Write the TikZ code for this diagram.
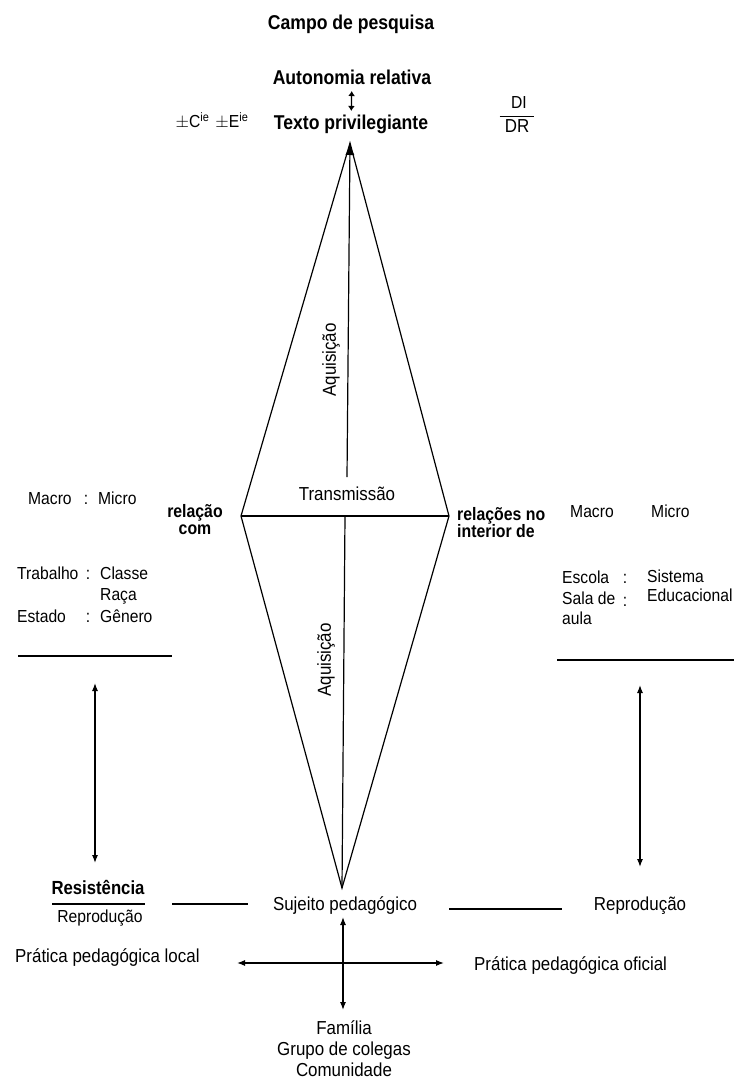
\documentclass[tikz,border=0pt]{standalone}
\usepackage{fontspec}
\setmainfont{Liberation Sans}[FakeStretch=0.9]
\newfontfamily\condfont{Liberation Sans}[FakeStretch=0.88]
\usetikzlibrary{arrows.meta}
\begin{document}
\begin{tikzpicture}[x=1pt,y=-1pt,
  txt/.style={inner sep=1pt,font=\fontsize{18.8}{21}\selectfont},
  sm/.style={inner sep=1pt,font=\fontsize{17.4}{20}\selectfont},
  bb/.style={inner sep=1pt,font=\condfont\bfseries\fontsize{20}{23}\selectfont},
  bs/.style={inner sep=1pt,font=\condfont\bfseries\fontsize{18}{17}\selectfont},
  ln/.style={line width=1.2pt},
  tip/.tip={Latex[length=8pt,width=6pt]},
  dbl/.style={line width=1.2pt,tip-tip},
]
\useasboundingbox (0,0) rectangle (734,1082);

% top texts
\node[bb,anchor=mid] (campo) at (351,27) {Campo de pesquisa};
\node[bb,anchor=mid] (auton) at (352,82) {Autonomia relativa};
\node[bb,anchor=mid] (texto) at (351,127) {Texto privilegiante};
\draw[line width=1.2pt,{Latex[length=5pt,width=7pt]}-{Latex[length=5pt,width=7pt]},shorten <=5pt,shorten >=3pt] (auton) -- (texto);
\node[sm,anchor=mid] (pm) at (212,125) {$\pm$C\textsuperscript{ie}\hspace{6pt}$\pm$E\textsuperscript{ie}};
\node[sm,anchor=mid] (di) at (519,106) {DI};
\node[txt,anchor=mid] (dr) at (517,130) {DR};
\draw[line width=1pt] ([xshift=-4pt,yshift=2pt]dr.north west) -- ([xshift=4pt,yshift=2pt]dr.north east);

% diamond
\coordinate (top) at (350,143);
\coordinate (lft) at (241,516);
\coordinate (rgt) at (449,516);
\coordinate (bot) at (342,888);
\coordinate (upend) at (347,477);
\coordinate (lowst) at (345,516);
\draw[ln,line join=miter] (top) -- (lft) -- (bot) -- (rgt) -- cycle;
\draw[ln] (lft) -- (rgt);
\draw[ln,-{Latex[length=12pt,width=9pt]}] (upend) -- (top);
\draw[ln] (lowst) -- (bot);
\node[txt,anchor=mid] (trans) at (347,498) {Transmissão};
\node[txt,rotate=90] (aq1) at (331,360) {Aquisição};
\node[txt,rotate=90] (aq2) at (326,660) {Aquisição};

% left side
\node[sm,anchor=mid west] (lmacro) at (27,502) {Macro};
\node[sm,anchor=mid] (lc1) at (86,502) {:};
\node[sm,anchor=mid west] (lmicro) at (97,502) {Micro};
\node[bs,align=center] (relcom) at (195,520) {relação\\com};
\node[sm,anchor=mid west] (trab) at (16,577) {Trabalho};
\node[sm,anchor=mid] (lc2) at (88,577) {:};
\node[sm,anchor=mid west] (classe) at (99,577) {Classe};
\node[sm,anchor=mid west] (raca) at (99,598) {Raça};
\node[sm,anchor=mid west] (estado) at (16,620) {Estado};
\node[sm,anchor=mid] (lc3) at (88,620) {:};
\node[sm,anchor=mid west] (genero) at (99,620) {Gênero};
\coordinate (lla) at (18,656);
\coordinate (llb) at (172,656);
\draw[ln] (lla) -- (llb);
\coordinate (la1) at (95,683);
\coordinate (la2) at (95,863);
\draw[dbl] (la1) -- (la2);
\node[bs,anchor=mid,font=\condfont\bfseries\fontsize{19}{20}\selectfont] (resist) at (98,892) {Resistência};
\draw[ln] (52,904) -- (145,904);
\node[sm,anchor=mid] (repl) at (100,920) {Reprodução};

% center bottom
\node[txt,anchor=mid] (sujeito) at (345,908) {Sujeito pedagógico};
\coordinate (s1) at (172,904);
\coordinate (s2) at (248,904);
\draw[ln] (s1) -- (s2);
\coordinate (s3) at (449,909);
\coordinate (s4) at (562,909);
\draw[ln] (s3) -- (s4);
\node[txt,anchor=mid] (repr) at (640,908) {Reprodução};
\coordinate (ba1) at (343,917);
\coordinate (ba2) at (343,1010);
\draw[dbl] (ba1) -- (ba2);
\coordinate (ha1) at (237,963);
\coordinate (ha2) at (444,963);
\draw[dbl] (ha1) -- (ha2);
\node[txt,anchor=mid west] (plocal) at (14,960) {Prática pedagógica local};
\node[txt,anchor=mid west] (poficial) at (473,968) {Prática pedagógica oficial};
\node[txt,align=center,anchor=north] (familia) at (344,1019) {Família\\Grupo de colegas\\Comunidade};

% right side
\node[bs,align=left,anchor=west] (relint) at (456,523) {relações no\\interior de};
\node[sm,anchor=mid west] (rmacro) at (569,515) {Macro};
\node[sm,anchor=mid west] (rmicro) at (650,515) {Micro};
\node[sm,anchor=mid west] (escola) at (561,581) {Escola};
\node[sm,anchor=mid] (rc1) at (625,581) {:};
\node[sm,anchor=mid west,inner sep=0pt] (sistema) at (647,580) {Sistema};
\node[sm,anchor=mid west] (sala) at (561,602) {Sala de};
\node[sm,anchor=mid] (rc2) at (625,604) {:};
\node[sm,anchor=mid west,inner sep=0pt] (educ) at (647,599) {Educacional};
\node[sm,anchor=mid west] (aula) at (561,622) {aula};
\coordinate (rla) at (557,660);
\coordinate (rlb) at (734,660);
\draw[ln] (rla) -- (rlb);
\coordinate (ra1) at (640,685);
\coordinate (ra2) at (640,867);
\draw[dbl] (ra1) -- (ra2);
\end{tikzpicture}
\end{document}
